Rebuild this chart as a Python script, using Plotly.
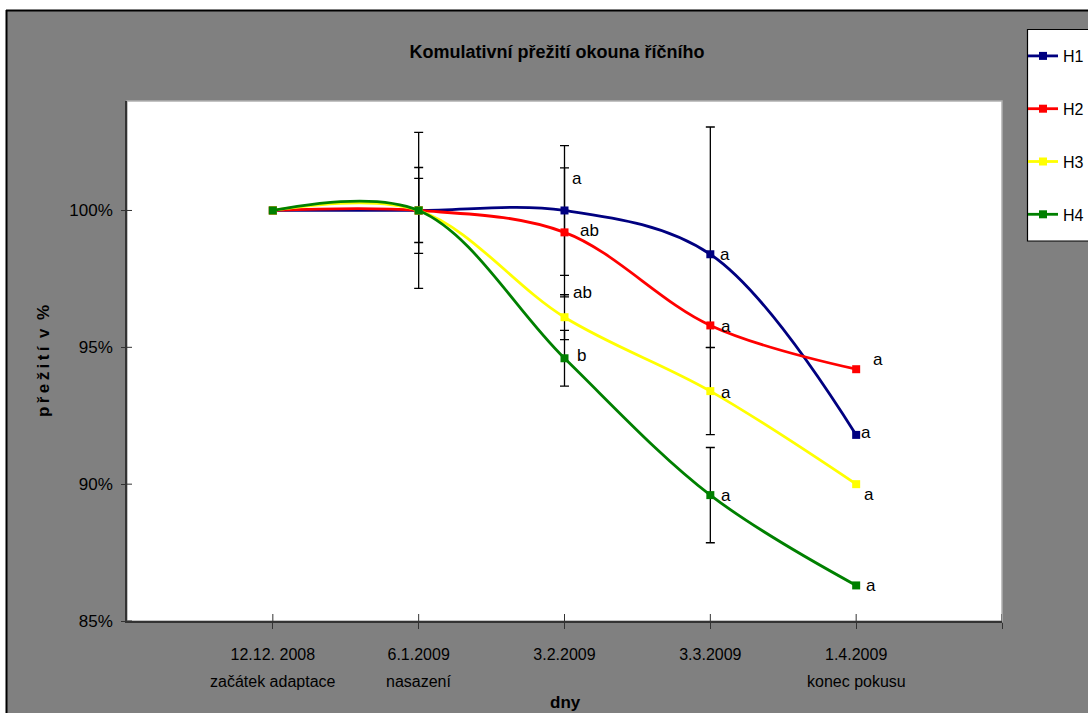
import plotly.graph_objects as go

# --- data -------------------------------------------------------------
dates = ["12.12. 2008", "6.1.2009", "3.2.2009", "3.3.2009", "1.4.2009"]
phases = ["začátek adaptace", "nasazení", "", "", "konec pokusu"]
series_names = ["H1", "H2", "H3", "H4"]

h1 = [100.0, 100.0, 100.0, 98.4, 91.8]
h2 = [100.0, 100.0, 99.2, 95.8, 94.2]
h3 = [100.0, 100.0, 96.1, 93.4, 90.0]
h4 = [100.0, 100.0, 94.6, 89.6, 86.3]

# error bar sizes (percentage points); None = no bar
h1_err_plus = [None, None, 2.37, 4.65, None]
h1_err_minus = [None, None, 2.37, 3.40, None]
h2_err_plus = [None, 1.17, 2.36, None, None]
h2_err_minus = [None, 1.17, 2.36, None, None]
h3_err_plus = [None, 1.57, 0.82, 1.59, None]
h3_err_minus = [None, 1.57, 0.82, 1.59, None]
h4_err_plus = [None, 2.85, 1.02, 1.74, None]
h4_err_minus = [None, 2.85, 1.02, 1.74, None]

# significance letters
h1_letters = ["", "", "a", "a", "a"]
h2_letters = ["", "", "ab", "a", "a"]
h3_letters = ["", "", "ab", "a", "a"]
h4_letters = ["", "", "b", "a", "a"]

y_ticks = [85, 90, 95, 100]
y_tick_text = ["85%", "90%", "95%", "100%"]

# --- styling ----------------------------------------------------------
FONT = "Liberation Sans Narrow, Arial Narrow, Liberation Sans, Arial, sans-serif"
FS = 16
colors = ["#000080", "#FF0000", "#FFFF00", "#008000"]
values = [h1, h2, h3, h4]
err_plus = [h1_err_plus, h2_err_plus, h3_err_plus, h4_err_plus]
err_minus = [h1_err_minus, h2_err_minus, h3_err_minus, h4_err_minus]
letters = [h1_letters, h2_letters, h3_letters, h4_letters]

# label offsets in pixels (dx, dy) per series / point
label_offsets = [
    [None, None, (12, 32), (15, 0), (10, 2)],
    [None, None, (25, 2), (16, -1), (22, 10)],
    [None, None, (18, 25), (16, -1), (13, -10)],
    [None, None, (17, 3), (16, 0), (15, 0)],
]

W, H = 1088, 713
L, R, T, B = 127, 86, 101, 92
PW, PH = W - L - R, H - T - B


def px(xpix):
    return (xpix - L) / PW


def py(ypix):
    return (H - B - ypix) / PH


xs = list(range(1, len(dates) + 1))

fig = go.Figure()

# error bars (drawn first so lines sit on top)
for name, vals, ep, em in zip(series_names, values, err_plus, err_minus):
    idx = [i for i, e in enumerate(ep) if e is not None]
    if not idx:
        continue
    fig.add_trace(go.Scatter(
        x=[xs[i] for i in idx], y=[vals[i] for i in idx],
        mode="markers", marker=dict(size=1, opacity=0),
        error_y=dict(type="data", symmetric=False,
                     array=[ep[i] for i in idx],
                     arrayminus=[em[i] for i in idx],
                     color="black", thickness=1.3, width=4.5),
        showlegend=False, hoverinfo="skip",
    ))

for name, vals, col in zip(series_names, values, colors):
    fig.add_trace(go.Scatter(
        x=xs, y=vals, name=name, legendgroup=name,
        mode="lines+markers",
        line=dict(color=col, width=2.8, shape="spline", smoothing=1.0),
        marker=dict(symbol="square", size=8, color=col),
    ))

annotations = []
for s, (vals, lets) in enumerate(zip(values, letters)):
    for j, t in enumerate(lets):
        if not t:
            continue
        dx, dy = label_offsets[s][j]
        annotations.append(dict(
            x=xs[j], y=vals[j], xref="x", yref="y", text=t, showarrow=False,
            xshift=dx, yshift=dy, font=dict(family=FONT, size=FS + 1, color="black"),
        ))

for xv, ph in zip(xs, phases):
    if ph:
        annotations.append(dict(
            x=xv, y=py(681), xref="x", yref="paper", text=ph, showarrow=False,
            yanchor="middle", font=dict(family=FONT, size=FS, color="black"),
        ))

annotations.append(dict(
    x=px(565), y=py(702), xref="paper", yref="paper", text="<b>dny</b>",
    showarrow=False, yanchor="middle",
    font=dict(family=FONT, size=FS + 1, color="black"),
))
annotations.append(dict(
    x=px(43), y=0.5, xref="paper", yref="paper",
    text="<b>p\u2009ř\u2009e\u2009ž\u2009i\u2009t\u2009í\u2002v\u2002%</b>",
    showarrow=False, textangle=-90, xanchor="center", yanchor="middle",
    font=dict(family=FONT, size=FS + 1, color="black"),
))

shapes = [
    # white page strips around the chart frame
    dict(type="rect", xref="paper", yref="paper", x0=px(-20), x1=px(1200),
         y0=py(10), y1=py(-20), fillcolor="white", line=dict(width=0), layer="below"),
    dict(type="rect", xref="paper", yref="paper", x0=px(-20), x1=px(6),
         y0=py(800), y1=py(-20), fillcolor="white", line=dict(width=0), layer="below"),
    # chart frame
    dict(type="line", xref="paper", yref="paper", x0=px(6), x1=px(1200),
         y0=py(10.5), y1=py(10.5), line=dict(color="black", width=2), layer="below"),
    dict(type="line", xref="paper", yref="paper", x0=px(6.5), x1=px(6.5),
         y0=py(10), y1=py(800), line=dict(color="black", width=2), layer="below"),
    # plot area border
    dict(type="rect", xref="paper", yref="paper", x0=0, x1=1, y0=0, y1=1,
         line=dict(color="#b0b0b0", width=1.5), layer="below"),
    # legend box
    dict(type="rect", xref="paper", yref="paper", x0=px(1027.5), x1=px(1200),
         y0=py(241), y1=py(29.5), fillcolor="white",
         line=dict(color="black", width=1.2), layer="above"),
]
# inner halves of the crossing tick marks
for xv in xs + [len(dates) + 1]:
    shapes.append(dict(type="line", xref="x", yref="paper", ysizemode="pixel",
                       yanchor=0, x0=xv, x1=xv, y0=0, y1=7,
                       line=dict(color="#333333", width=1)))
for yv in y_ticks:
    shapes.append(dict(type="line", yref="y", xref="paper", xsizemode="pixel",
                       xanchor=0, y0=yv, y1=yv, x0=0, x1=5,
                       line=dict(color="#333333", width=1)))

fig.update_layout(
    width=W, height=H,
    margin=dict(l=L, r=R, t=T, b=B, autoexpand=False),
    paper_bgcolor="#808080", plot_bgcolor="white",
    title=dict(text="<b>Komulativní přežití okouna říčního</b>",
               x=557 / W, y=1 - 52 / H, xref="container", yref="container",
               xanchor="center", yanchor="middle",
               font=dict(family=FONT, size=18, color="black")),
    xaxis=dict(range=[0, len(dates) + 1], tickvals=xs + [len(dates) + 1],
               ticktext=dates + [""], showgrid=False, zeroline=False,
               showline=True, linecolor="#333333", linewidth=1.5,
               ticks="outside", ticklen=6, tickcolor="#333333",
               tickfont=dict(family=FONT, size=FS, color="black"),
               ticklabelstandoff=12),
    yaxis=dict(range=[85, 104], tickvals=y_ticks, ticktext=y_tick_text,
               showgrid=False, zeroline=False,
               showline=True, linecolor="#333333", linewidth=1.5,
               ticks="outside", ticklen=4, tickcolor="#333333",
               tickfont=dict(family=FONT, size=FS + 1, color="black"),
               ticklabelstandoff=5),
    legend=dict(x=px(1023), y=py(39), xanchor="left", yanchor="top",
                bgcolor="rgba(0,0,0,0)", borderwidth=0,
                tracegroupgap=29, font=dict(family=FONT, size=FS, color="black")),
    annotations=annotations, shapes=shapes,
)

fig.write_html("out.html")
